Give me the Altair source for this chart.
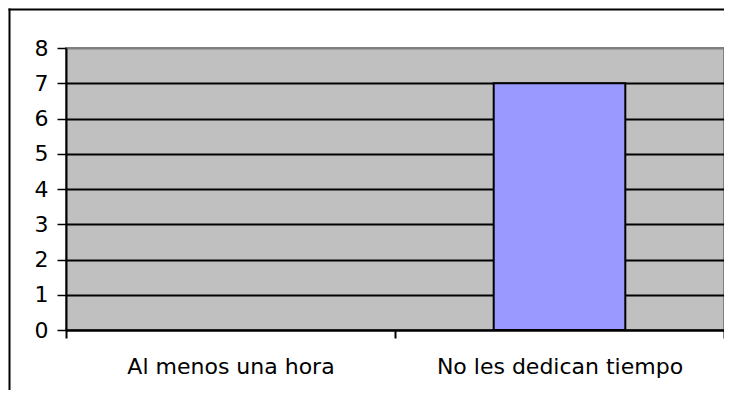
import altair as alt
import pandas as pd

categories = ["Al menos una hora", "No les dedican tiempo"]
values = [0, 7]

df = pd.DataFrame({"categoria": categories, "valor": values})

base = alt.Chart(df)

bars = base.mark_bar(
    color="#9999FF", stroke="black", strokeWidth=2, width=alt.RelativeBandSize(0.4)
).encode(
    x=alt.X(
        "categoria:N",
        sort=categories,
        title=None,
        scale=alt.Scale(domain=categories, paddingInner=0, paddingOuter=0),
        axis=alt.Axis(
            labelAngle=0,
            tickBand="extent",
            tickSize=8,
            tickColor="black",
            tickWidth=2,
            domainColor="black",
            domainWidth=2,
            labelFont="DejaVu Sans",
            labelFontSize=22,
            labelColor="black",
            labelBaseline="alphabetic",
            labelPadding=35,
            labelLimit=0,
            grid=False,
        ),
    ),
    y=alt.Y(
        "valor:Q",
        title=None,
        scale=alt.Scale(domain=[0, 8], nice=False),
        axis=alt.Axis(
            values=[0, 1, 2, 3, 4, 5, 6, 7, 8],
            tickSize=9,
            tickColor="black",
            tickWidth=1.5,
            domainColor="black",
            domainWidth=2,
            labelFont="DejaVu Sans",
            labelFontSize=22,
            labelColor="black",
            labelPadding=9,
            grid=True,
            gridColor={"condition": {"test": "datum.value === 8", "value": "#808080"}, "value": "black"},
            gridWidth=2,
            gridOpacity=1,
        ),
    ),
).transform_filter("datum.valor > 0")

# outer frame drawn as the domain lines of two invisible, independent axes
frame = base.mark_point(opacity=0).encode(
    x=alt.X(
        "valor:Q",
        title=None,
        scale=alt.Scale(range=[-58, 900]),
        axis=alt.Axis(
            orient="top", offset=39, labels=False, ticks=False, grid=False,
            domainColor="black", domainWidth=2,
        ),
    ),
    y=alt.Y(
        "valor:Q",
        title=None,
        scale=alt.Scale(range=[600, -40]),
        axis=alt.Axis(
            orient="left", offset=57, labels=False, ticks=False, grid=False,
            domainColor="black", domainWidth=2,
        ),
    ),
)

chart = (
    alt.layer(bars, frame)
    .resolve_scale(x="independent", y="independent")
    .resolve_axis(x="independent", y="independent")
    .properties(
        width=658,
        height=282,
        autosize=alt.AutoSizeParams(type="none"),
        padding={"left": 58, "top": 40, "right": 0, "bottom": 60},
        background="white",
    )
    .configure_view(fill="#C0C0C0", stroke="#808080", strokeWidth=2)
)

chart.save("out.html", embed_options={"renderer": "svg", "actions": False})
